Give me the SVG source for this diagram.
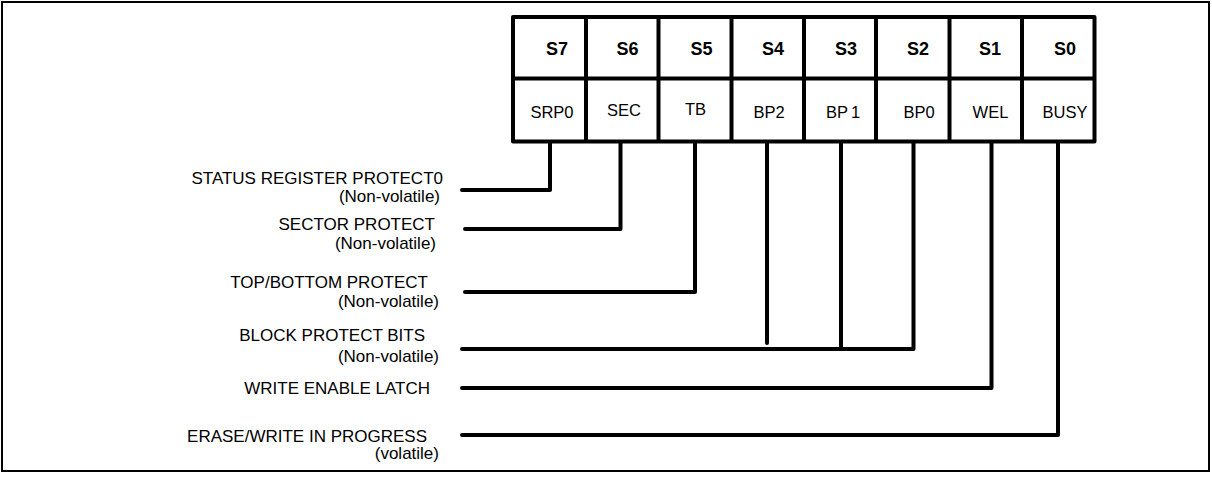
<svg xmlns="http://www.w3.org/2000/svg" width="1212" height="481" viewBox="0 0 1212 481">
<style>
.frame{fill:none;stroke:#000;stroke-width:2}
.cell{fill:#fff;stroke:#000;stroke-width:4;stroke-linejoin:round}
.hdr{font-family:"Liberation Sans",Arial,sans-serif;font-size:18px;font-weight:bold;fill:#000;text-anchor:middle}
.bit{font-family:"Liberation Sans",Arial,sans-serif;font-size:16.5px;fill:#000;text-anchor:middle}
.lbl{font-family:"Liberation Sans",Arial,sans-serif;font-size:17px;fill:#000;text-anchor:end}
.wire{fill:none;stroke:#000;stroke-width:4;stroke-linecap:round;stroke-linejoin:round}
</style>
<rect class="frame" x="2" y="2" width="1207" height="469"/>
<g id="register">
  <rect class="cell" x="513" y="17" width="581.5" height="124.5"/>
  <line class="cell" x1="513" y1="78.5" x2="1094.5" y2="78.5"/>
  <line class="cell" x1="586" y1="17" x2="586" y2="141.5"/>
  <line class="cell" x1="658.5" y1="17" x2="658.5" y2="141.5"/>
  <line class="cell" x1="731.5" y1="17" x2="731.5" y2="141.5"/>
  <line class="cell" x1="804" y1="17" x2="804" y2="141.5"/>
  <line class="cell" x1="876" y1="17" x2="876" y2="141.5"/>
  <line class="cell" x1="949.5" y1="17" x2="949.5" y2="141.5"/>
  <line class="cell" x1="1022" y1="17" x2="1022" y2="141.5"/>
</g>
<g id="bit7"><text class="hdr" x="557" y="55">S7</text><text class="bit" x="552" y="118">SRP0</text></g>
<g id="bit6"><text class="hdr" x="627.5" y="55">S6</text><text class="bit" x="624" y="116">SEC</text></g>
<g id="bit5"><text class="hdr" x="701.5" y="55">S5</text><text class="bit" x="695.5" y="115">TB</text></g>
<g id="bit4"><text class="hdr" x="773" y="55">S4</text><text class="bit" x="769" y="118">BP2</text></g>
<g id="bit3"><text class="hdr" x="846" y="55">S3</text><text class="bit" x="843" y="118">BP<tspan dx="3">1</tspan></text></g>
<g id="bit2"><text class="hdr" x="918" y="55">S2</text><text class="bit" x="919" y="118">BP0</text></g>
<g id="bit1"><text class="hdr" x="990" y="55">S1</text><text class="bit" x="990.5" y="118">WEL</text></g>
<g id="bit0"><text class="hdr" x="1065" y="55">S0</text><text class="bit" x="1065" y="118">BUSY</text></g>
<g id="label-srp0"><text class="lbl" x="443" y="184">STATUS REGISTER PROTECT0</text><text class="lbl" x="440" y="202">(Non-volatile)</text></g>
<g id="label-sec"><text class="lbl" x="435" y="230">SECTOR PROTECT</text><text class="lbl" x="436" y="249">(Non-volatile)</text></g>
<g id="label-tb"><text class="lbl" x="428" y="288">TOP/BOTTOM PROTECT</text><text class="lbl" x="439" y="307">(Non-volatile)</text></g>
<g id="label-bp"><text class="lbl" x="425" y="341">BLOCK PROTECT BITS</text><text class="lbl" x="439" y="362">(Non-volatile)</text></g>
<g id="label-wel"><text class="lbl" x="430" y="394">WRITE ENABLE LATCH</text></g>
<g id="label-busy"><text class="lbl" x="427" y="442">ERASE/WRITE IN PROGRESS</text><text class="lbl" x="439" y="459">(volatile)</text></g>
<g id="connectors">
  <polyline class="wire" points="550,142 550,190 462,190"/>
  <polyline class="wire" points="620.5,142 620.5,229 465,229"/>
  <polyline class="wire" points="695,142 695,292 465,292"/>
  <polyline class="wire" points="767,142 767,343"/>
  <polyline class="wire" points="841,142 841,349"/>
  <polyline class="wire" points="913.5,142 913.5,349 462,349"/>
  <polyline class="wire" points="991.5,142 991.5,388 462,388"/>
  <polyline class="wire" points="1058,142 1058,435 462,435"/>
</g>
</svg>
